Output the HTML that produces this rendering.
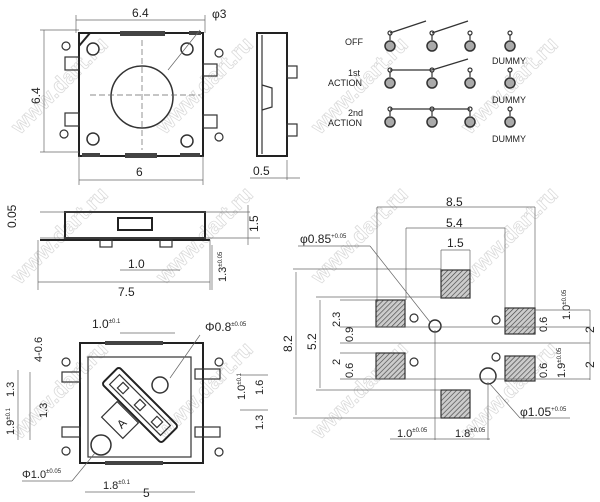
<!DOCTYPE html>
<html><head><style>
html,body{margin:0;padding:0;background:#fff;}
svg{display:block;font-family:"Liberation Sans",sans-serif;}
text{fill:#222;}
.l{stroke:#222;fill:none;stroke-width:2}
.t{stroke:#333;fill:none;stroke-width:1.2}
.d{stroke:#666;fill:none;stroke-width:0.7}
.c{stroke:#333;fill:#fff;stroke-width:1.5}
.g{stroke:#333;fill:#aaa;stroke-width:1.5}
.h{fill:url(#hat);stroke:#333;stroke-width:1.2}
.w{fill:none;stroke:#ccc;stroke-width:0.8;font-size:22px;font-weight:bold}
</style></head><body>
<svg width="600" height="502" viewBox="0 0 600 502">
<defs><pattern id="hat" width="3.5" height="3.5" patternUnits="userSpaceOnUse" patternTransform="rotate(45)"><rect width="4" height="4" fill="#ccc"/><line x1="0" y1="0" x2="0" y2="4" stroke="#444" stroke-width="1.3"/></pattern></defs>

<g opacity="0.7">
<text class="w" transform="translate(20,135) rotate(-45)">www.dart.ru</text>
<text class="w" transform="translate(165,135) rotate(-45)">www.dart.ru</text>
<text class="w" transform="translate(320,135) rotate(-45)">www.dart.ru</text>
<text class="w" transform="translate(470,135) rotate(-45)">www.dart.ru</text>
<text class="w" transform="translate(20,285) rotate(-45)">www.dart.ru</text>
<text class="w" transform="translate(165,285) rotate(-45)">www.dart.ru</text>
<text class="w" transform="translate(320,285) rotate(-45)">www.dart.ru</text>
<text class="w" transform="translate(470,285) rotate(-45)">www.dart.ru</text>
<text class="w" transform="translate(20,440) rotate(-45)">www.dart.ru</text>
<text class="w" transform="translate(165,440) rotate(-45)">www.dart.ru</text>
<text class="w" transform="translate(320,440) rotate(-45)">www.dart.ru</text>
<text class="w" transform="translate(470,440) rotate(-45)">www.dart.ru</text>
</g>

<rect class="l" x="79" y="33" width="124" height="123"/>
<line class="l" x1="79" y1="46" x2="90" y2="33"/>
<rect x="120" y="31" width="45" height="5" fill="#444"/>
<rect x="125" y="153" width="32" height="5" fill="#444"/>
<rect x="82" y="153" width="18" height="4" fill="#444"/>
<rect x="180" y="153" width="20" height="4" fill="#444"/>
<rect x="189" y="31" width="12" height="4" fill="#444"/>
<rect class="t" x="65" y="57" width="14" height="13"/><rect class="t" x="65" y="113" width="14" height="13"/>
<rect class="t" x="203" y="64" width="14" height="12"/><rect class="t" x="203" y="115" width="14" height="13"/>
<circle class="c" cx="142" cy="97" r="31"/>
<circle class="c" cx="93" cy="49" r="6"/><circle class="c" cx="187" cy="49" r="6"/>
<circle class="c" cx="93" cy="139" r="6"/><circle class="c" cx="187" cy="141" r="6"/>
<line class="d" x1="90" y1="95" x2="200" y2="95" stroke-dasharray="6 3"/>
<line class="d" x1="142" y1="40" x2="142" y2="150" stroke-dasharray="6 3"/>
<line class="d" x1="168" y1="70" x2="200" y2="30"/>
<circle class="t" cx="66" cy="46" r="4"/><circle class="t" cx="219" cy="53" r="4"/>
<circle class="t" cx="64" cy="134" r="4"/><circle class="t" cx="219" cy="137" r="4"/>
<line class="d" x1="76" y1="20" x2="205" y2="20"/><line class="d" x1="76" y1="15" x2="76" y2="33"/><line class="d" x1="205" y1="15" x2="205" y2="33"/>
<text x="132" y="17" font-size="12">6.4</text><text x="212" y="18" font-size="12">φ3</text>
<line class="d" x1="44" y1="30" x2="44" y2="152"/><line class="d" x1="40" y1="30" x2="79" y2="30"/><line class="d" x1="40" y1="152" x2="79" y2="152"/>
<text font-size="12" transform="translate(40,104) rotate(-90)">6.4</text>
<line class="d" x1="79" y1="180" x2="203" y2="180"/><line class="d" x1="79" y1="156" x2="79" y2="185"/><line class="d" x1="203" y1="156" x2="203" y2="185"/>
<text x="136" y="176" font-size="12">6</text>

<rect class="l" x="257" y="33" width="30" height="123"/>
<line class="t" x1="262" y1="35" x2="262" y2="154"/>
<rect class="t" x="287" y="66" width="10" height="12"/><rect class="t" x="287" y="124" width="10" height="12"/>
<path class="t" d="M262 85 L272 88 L272 107 L262 110"/>
<line class="d" x1="287" y1="160" x2="287" y2="180"/><line class="d" x1="250" y1="178" x2="300" y2="178"/>
<text x="253" y="175" font-size="12">0.5</text>

<g font-size="9">
<text x="345" y="45">OFF</text>
<text x="348" y="76">1st</text><text x="328" y="86">ACTION</text>
<text x="348" y="116">2nd</text><text x="328" y="126">ACTION</text>
<text x="492" y="64">DUMMY</text><text x="492" y="103">DUMMY</text><text x="492" y="142">DUMMY</text>
</g>
<g class="t">
<line x1="390" y1="33" x2="426" y2="21"/><line x1="432" y1="33" x2="468" y2="21"/>
<line x1="390" y1="70" x2="432" y2="70"/><line x1="432" y1="70" x2="468" y2="59"/>
<line x1="390" y1="109" x2="470" y2="109"/>
</g>
<g>
<g id="row">
<circle class="t" cx="390" cy="33" r="2"/><line class="t" x1="390" y1="35" x2="390" y2="40"/><circle class="g" cx="390" cy="46" r="5"/>
<circle class="t" cx="432" cy="33" r="2"/><line class="t" x1="432" y1="35" x2="432" y2="40"/><circle class="g" cx="432" cy="46" r="5"/>
<circle class="t" cx="470" cy="33" r="2"/><line class="t" x1="470" y1="35" x2="470" y2="40"/><circle class="g" cx="470" cy="46" r="5"/>
<circle class="t" cx="510" cy="33" r="2"/><line class="t" x1="510" y1="35" x2="510" y2="40"/><circle class="g" cx="510" cy="46" r="5"/>
</g>
<use href="#row" y="37"/><use href="#row" y="76"/>
</g>

<rect class="l" x="65" y="212" width="140" height="26"/>
<rect class="l" x="118" y="218" width="34" height="12"/>
<line class="l" x1="40" y1="240" x2="210" y2="240"/>
<rect class="t" x="100" y="240" width="12" height="7"/><rect class="t" x="160" y="240" width="12" height="7"/>
<line class="d" x1="40" y1="212" x2="250" y2="212"/><line class="d" x1="40" y1="238" x2="260" y2="238"/>
<line class="d" x1="248" y1="205" x2="248" y2="245"/>
<text font-size="12" transform="translate(258,232) rotate(-90)">1.5</text>
<text font-size="12" transform="translate(16,228) rotate(-90)">0.05</text>
<line class="d" x1="120" y1="270" x2="180" y2="270"/><text x="128" y="268" font-size="12">1.0</text>
<line class="d" x1="212" y1="245" x2="212" y2="290"/>
<text font-size="11" transform="translate(226,282) rotate(-90)">1.3<tspan font-size="6" dy="-4">±0.05</tspan></text>
<line class="d" x1="38" y1="282" x2="210" y2="282"/><line class="d" x1="38" y1="240" x2="38" y2="290"/><line class="d" x1="210" y1="240" x2="210" y2="290"/>
<text x="118" y="296" font-size="12">7.5</text>

<rect class="l" x="80" y="343" width="123" height="120"/>
<rect class="t" x="88" y="357" width="103" height="100"/>
<rect x="105" y="341" width="58" height="4" fill="#444"/><rect x="105" y="461" width="58" height="4" fill="#444"/>
<rect class="t" x="62" y="372" width="18" height="10"/><rect class="t" x="62" y="427" width="18" height="10"/>
<rect class="t" x="195" y="369" width="25" height="10"/><rect class="t" x="195" y="427" width="25" height="10"/>
<g transform="translate(140,405) rotate(45)">
<rect class="l" x="-42" y="-12" width="84" height="24" rx="3"/>
<rect class="t" x="-36" y="-7" width="72" height="14"/>
<rect class="t" x="-28" y="-4" width="8" height="8"/><rect class="t" x="-4" y="-4" width="8" height="8"/><rect class="t" x="20" y="-4" width="8" height="8"/>
</g>
<rect class="t" x="109" y="405" width="22" height="30" transform="rotate(-45 120 420)"/>
<text x="117" y="428" font-size="12" transform="rotate(-45 121 423)">A</text>
<circle class="c" cx="160" cy="385" r="8"/><circle class="c" cx="101" cy="445" r="10"/>
<circle class="t" cx="66" cy="362" r="4"/><circle class="t" cx="219" cy="362" r="4"/>
<circle class="t" cx="66" cy="451" r="4"/><circle class="t" cx="219" cy="452" r="4"/>
<text x="92" y="328" font-size="12">1.0<tspan font-size="6" dy="-5">±0.1</tspan></text>
<line class="d" x1="120" y1="333" x2="175" y2="333"/>
<text x="205" y="331" font-size="12">Φ0.8<tspan font-size="6" dy="-5">±0.05</tspan></text>
<line class="d" x1="200" y1="335" x2="170" y2="378"/>
<text font-size="11" transform="translate(42,362) rotate(-90)">4-0.6</text>
<text font-size="11" transform="translate(14,397) rotate(-90)">1.3</text>
<text font-size="11" transform="translate(14,435) rotate(-90)">1.9<tspan font-size="6" dy="-4">±0.1</tspan></text>
<text font-size="11" transform="translate(47,418) rotate(-90)">1.3</text>
<line class="d" x1="18" y1="370" x2="18" y2="440"/><line class="d" x1="30" y1="372" x2="30" y2="440"/>
<text font-size="11" transform="translate(245,400) rotate(-90)">1.0<tspan font-size="6" dy="-4">±0.1</tspan></text>
<text font-size="11" transform="translate(263,395) rotate(-90)">1.6</text>
<text font-size="11" transform="translate(263,430) rotate(-90)">1.3</text>
<line class="d" x1="240" y1="375" x2="268" y2="375"/><line class="d" x1="240" y1="410" x2="268" y2="410"/>
<text x="22" y="478" font-size="11">Φ1.0<tspan font-size="6" dy="-5">±0.05</tspan></text>
<line class="d" x1="22" y1="481" x2="72" y2="481"/><line class="d" x1="72" y1="481" x2="95" y2="453"/>
<text x="103" y="489" font-size="11">1.8<tspan font-size="6" dy="-5">±0.1</tspan></text>
<text x="143" y="497" font-size="12">5</text>
<line class="d" x1="85" y1="492" x2="195" y2="492"/>

<text x="300" y="243" font-size="12">φ0.85<tspan font-size="6" dy="-5">+0.05</tspan></text>
<line class="d" x1="298" y1="246" x2="370" y2="246"/><line class="d" x1="370" y1="246" x2="430" y2="322"/>
<text x="446" y="206" font-size="12">8.5</text>
<line class="d" x1="377" y1="207" x2="535" y2="207"/>
<text x="446" y="227" font-size="12">5.4</text>
<line class="d" x1="406" y1="228" x2="505" y2="228"/>
<text x="447" y="247" font-size="12">1.5</text>
<line class="d" x1="441" y1="250" x2="470" y2="250"/>
<line class="d" x1="377" y1="207" x2="377" y2="300"/><line class="d" x1="406" y1="228" x2="406" y2="300"/>
<line class="d" x1="505" y1="228" x2="505" y2="308"/><line class="d" x1="535" y1="207" x2="535" y2="308"/>
<line class="d" x1="441" y1="250" x2="441" y2="270"/><line class="d" x1="470" y1="250" x2="470" y2="270"/>
<rect class="h" x="441" y="270" width="29" height="28"/>
<rect class="h" x="376" y="300" width="29" height="27"/>
<rect class="h" x="376" y="353" width="29" height="26"/>
<rect class="h" x="505" y="308" width="30" height="26"/>
<rect class="h" x="505" y="356" width="30" height="25"/>
<rect class="h" x="441" y="390" width="29" height="28"/>
<circle class="c" cx="435" cy="326" r="6"/><circle class="c" cx="488" cy="376" r="8"/>
<circle class="t" cx="414" cy="318" r="4"/><circle class="t" cx="414" cy="362" r="4"/>
<circle class="t" cx="496" cy="320" r="4"/><circle class="t" cx="496" cy="357" r="4"/>
<line class="d" x1="293" y1="269" x2="441" y2="269"/><line class="d" x1="293" y1="418" x2="441" y2="418"/>
<line class="d" x1="296" y1="272" x2="296" y2="415"/>
<text font-size="12" transform="translate(292,352) rotate(-90)">8.2</text>
<line class="d" x1="316" y1="297" x2="441" y2="297"/><line class="d" x1="316" y1="390" x2="441" y2="390"/>
<line class="d" x1="320" y1="300" x2="320" y2="388"/>
<text font-size="12" transform="translate(316,350) rotate(-90)">5.2</text>
<line class="d" x1="340" y1="327" x2="590" y2="327"/><line class="d" x1="340" y1="343" x2="590" y2="343"/>
<line class="d" x1="340" y1="353" x2="376" y2="353"/><line class="d" x1="340" y1="379" x2="590" y2="379"/>
<line class="d" x1="340" y1="300" x2="376" y2="300"/>
<text font-size="11" transform="translate(340,327) rotate(-90)">2.3</text>
<text font-size="11" transform="translate(353,342) rotate(-90)">0.9</text>
<text font-size="11" transform="translate(340,365) rotate(-90)">2</text>
<text font-size="11" transform="translate(353,378) rotate(-90)">0.6</text>
<text font-size="11" transform="translate(547,332) rotate(-90)">0.6</text>
<text font-size="11" transform="translate(547,378) rotate(-90)">0.6</text>
<text font-size="11" transform="translate(570,320) rotate(-90)">1.0<tspan font-size="6" dy="-4">±0.05</tspan></text>
<text font-size="11" transform="translate(565,378) rotate(-90)">1.9<tspan font-size="6" dy="-4">±0.05</tspan></text>
<line class="d" x1="535" y1="310" x2="590" y2="310"/>
<line class="d" x1="590" y1="310" x2="590" y2="380"/>
<text font-size="12" transform="translate(594,333) rotate(-90)">2</text>
<text font-size="12" transform="translate(594,368) rotate(-90)">2</text>
<line class="d" x1="490" y1="384" x2="520" y2="418"/><line class="d" x1="520" y1="418" x2="570" y2="418"/>
<text x="520" y="416" font-size="12">φ1.05<tspan font-size="6" dy="-5">+0.05</tspan></text>
<text x="397" y="437" font-size="11">1.0<tspan font-size="6" dy="-5">±0.05</tspan></text>
<text x="455" y="437" font-size="11">1.8<tspan font-size="6" dy="-5">±0.05</tspan></text>
<line class="d" x1="390" y1="439" x2="490" y2="439"/>
<line class="d" x1="435" y1="330" x2="435" y2="440"/><line class="d" x1="488" y1="382" x2="488" y2="440"/>
</svg>
</body></html>
